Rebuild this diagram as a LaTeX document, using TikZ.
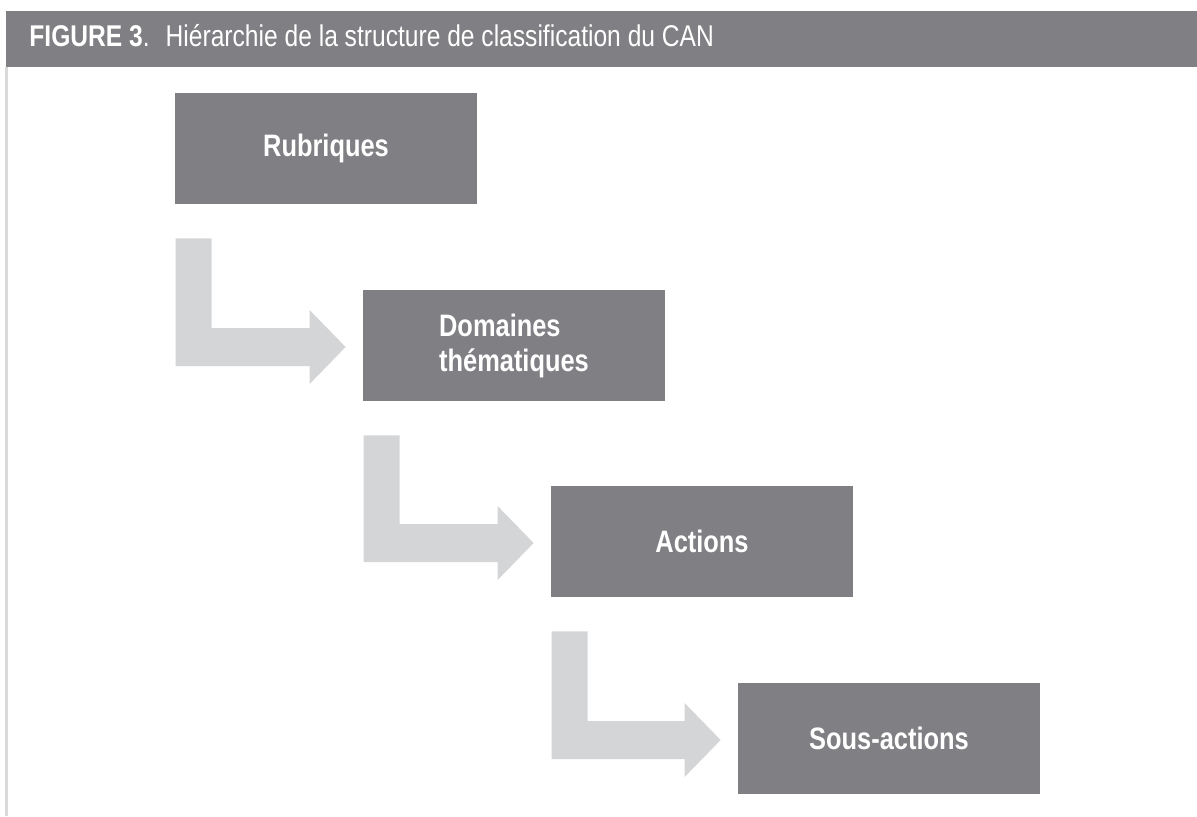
\documentclass[tikz,border=0pt]{standalone}
\usepackage{fontspec}
\IfFontExistsTF{Liberation Sans Narrow}
  {\setmainfont{Liberation Sans Narrow}}
  {\setmainfont{Liberation Sans}[FakeStretch=0.82]}
\usepackage{xcolor}
\usepackage{tikz}
\usetikzlibrary{calc, positioning}
\definecolor{boxgray}{RGB}{128,128,132}
\definecolor{flowgray}{RGB}{212,213,215}
\definecolor{rulegray}{RGB}{217,217,217}
\tikzset{
  niveau/.style={rectangle, fill=boxgray, inner sep=0pt,
                 minimum width=151pt, minimum height=55.5pt,
                 text=white, font=\fontsize{15.5}{17.5}\selectfont\bfseries,
                 align=left},
  flow/.style={fill=flowgray, draw=none},
  titre/.style={anchor=base west, text=white, inner sep=0pt,
                font=\fontsize{15}{17}\selectfont}
}
\begin{document}
\begin{tikzpicture}[x=0.5pt, y=-0.5pt]
  \useasboundingbox (0,0) rectangle (1197,816);
  % bandeau et filet
  \fill[boxgray] (6,11) rectangle (1197,67);
  \fill[rulegray] (5,67) rectangle (8,816);
  \node[titre] (titre) at (29,46) {\textbf{FIGURE 3}.\hspace{8pt}Hiérarchie de la structure de classification du CAN};
  % niveaux
  \node[niveau] (rub) at (326,148.5) {Rubriques};
  \node[niveau] (dom) at ($(rub)+(188,197)$) {Domaines\\thématiques};
  \node[niveau] (act) at ($(dom)+(188,196)$) {Actions};
  \node[niveau] (sous) at ($(act)+(187,197)$) {Sous-actions};
  % fleches coudees
  \foreach \a/\b in {rub/dom, dom/act, act/sous}
    \fill[flow] ($(\a.south west)+(1,34)$) coordinate (haut-\a) -- ++(36,0)
      |- ($(\b.west)+(-53,-17.5)$) -- ($(\b.west)+(-53,-35.5)$)
      -- ($(\b.west)+(-17,1.5)$) -- ($(\b.west)+(-53,38.5)$)
      -- ($(\b.west)+(-53,20.5)$) -| (haut-\a) -- cycle;
\end{tikzpicture}
\end{document}
